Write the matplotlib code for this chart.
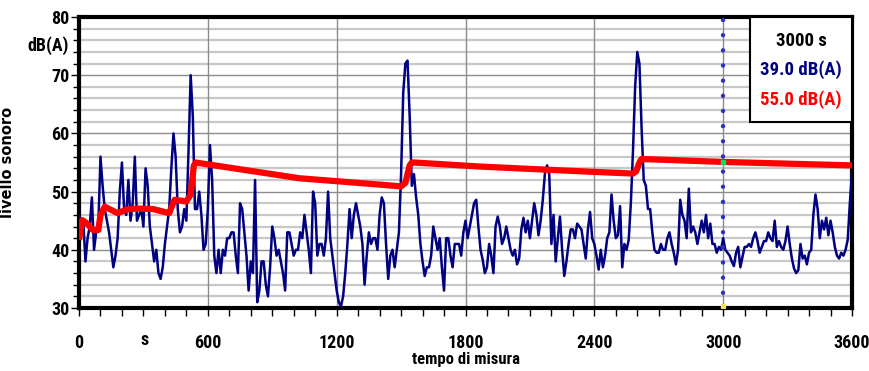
import numpy as np
import matplotlib
matplotlib.use("Agg")
import matplotlib.pyplot as plt
from matplotlib import font_manager
from matplotlib.ticker import MultipleLocator

# livello istantaneo (blu), un valore ogni 10 s da 0 a 3600 s
step = 10
blue_db = [
    46, 44, 45, 38, 42, 44, 49, 40, 43, 44, 56, 51,
    47, 45, 43, 40, 37, 39, 42, 50, 55, 47, 46, 52,
    45, 48, 56, 45, 46, 47, 44, 54, 51, 44, 41, 38,
    40, 36, 35, 37, 41, 44, 47, 54, 60, 56, 47, 43,
    44, 47, 45, 57, 70, 63, 47, 47, 50, 46, 40, 41,
    47, 58, 52, 39, 36, 40, 36, 40, 39, 42, 42, 43,
    43, 39, 36, 48, 47, 43, 39, 33, 38, 36, 52, 31,
    33, 38, 38, 34, 32, 37, 44, 42, 39, 40, 38, 36,
    33, 43, 43, 41, 39, 40, 40, 43, 42, 46, 43, 40,
    36, 50, 48, 39, 41, 41, 39, 42, 50, 42, 39, 36,
    33, 31, 30.3, 32, 36, 41, 47, 42, 46, 48, 46, 44,
    41, 34, 39, 43, 41, 42, 42, 40, 46, 49, 48, 41,
    35, 39, 40, 37, 40, 43, 53, 67, 72, 72.5, 63, 51,
    53, 49, 46, 41, 38, 35.5, 37, 37, 39, 44, 42, 40,
    42, 37, 33, 42, 42, 39, 37, 41, 41, 41, 39, 43,
    45, 42, 44, 46, 48, 48.6, 44, 40, 38.3, 36, 37, 41,
    39, 36, 44, 45.7, 44, 41, 42, 44, 42, 40, 39, 40,
    37.5, 38.5, 43.5, 45.5, 43, 45, 42, 45, 48, 46, 42.5, 45,
    48.6, 53.2, 54.5, 53, 41, 46, 38, 42, 45.7, 40, 35.5, 38,
    41, 43.5, 43.5, 42, 44.5, 44, 43.5, 41, 38.5, 43.5, 46.5, 42,
    41, 39, 36.6, 40, 37, 39, 42, 43, 49.5, 45, 42, 42.5,
    47.5, 37, 41, 40, 41.7, 48, 57, 68, 74, 72, 61, 52,
    51, 47, 47, 43, 40, 39.5, 39.5, 41, 40, 40, 42, 43,
    41, 39.5, 37.5, 40, 48.6, 46, 45, 42, 50.5, 43, 44, 43,
    41, 43, 45, 43, 46, 42, 44.5, 41, 41, 39.5, 40.5, 40,
    42, 40, 39.5, 39, 38, 37.2, 39.5, 40.5, 37, 38.8, 40.5, 40.5,
    41, 40.5, 42, 43, 41.5, 39.5, 40.5, 41.5, 41.5, 43, 42, 41.5,
    45, 40.5, 41.5, 40.5, 40, 41.5, 44, 41, 38.5, 36.8, 36, 36.5,
    41, 38.5, 39, 37.5, 39.5, 40, 46, 49.5, 47, 42, 45, 43.5,
    45.5, 42.5, 45, 43, 40.5, 39, 38.5, 39.5, 39, 40, 41.7, 48,
    53.5,
]
blue_t = np.arange(len(blue_db)) * step

# Leq progressivo (rosso)
red_t = [0, 15, 35, 65, 90, 100, 120, 180, 220, 270, 345, 420, 445, 500,
         520, 535, 545, 560, 1025, 1400, 1500, 1520, 1540, 1550, 1560, 1870,
         2330, 2580, 2595, 2610, 2620, 2700, 3000, 3600]
red_db = [41.7, 45.1, 44.6, 43.4, 43.4, 46.0, 47.4, 46.3, 46.9, 47.1, 47.0,
          46.3, 48.6, 48.3, 49.5, 54.5, 55.0, 54.9, 52.3, 51.2, 50.9, 51.5,
          54.5, 55.0, 55.0, 54.3, 53.5, 53.1, 53.5, 55.0, 55.6, 55.5, 55.1, 54.5]

cursor_t = 3000
cursor_lines = ["3000 s", "39.0 dB(A)", "55.0 dB(A)"]
x_ticks = [0, 600, 1200, 1800, 2400, 3000, 3600]

navy = "#000080"

# font stretto se disponibile
names = {f.name for f in font_manager.fontManager.ttflist}
narrow = None
for n in ["Liberation Sans Narrow", "DejaVu Sans Condensed", "Roboto Condensed",
          "Open Sans Condensed", "Noto Sans Condensed"]:
    if n in names:
        narrow = n
        break
if narrow:
    tf = dict(family=[narrow, "DejaVu Sans"], fontweight=900)
    tsize = 13
else:
    tf = dict(family=["DejaVu Sans"], fontweight="bold")
    tsize = 10.5

fig = plt.figure(figsize=(8.69, 3.71), dpi=100)
ax = fig.add_axes([79 / 869, 1 - 308 / 371, 773 / 869, 291 / 371])
ax.set_xlim(0, 3600)
ax.set_ylim(30, 80)

# griglia
for v in np.arange(32, 80, 2):
    if v % 10:
        ax.axhline(v, color="#c8c8c8", lw=1.6, zorder=0)
    else:
        ax.axhline(v, color="#8c8c8c", lw=1.0, zorder=0)
for v in x_ticks[1:-1]:
    ax.axvline(v, color="#8c8c8c", lw=1.0, zorder=0)

ax.plot(blue_t, blue_db, color=navy, lw=1.8, zorder=3)
ax.plot(red_t, red_db, color="#ff0000", lw=4.5, zorder=4, solid_capstyle="butt")

# cursore
ax.axvline(cursor_t, color="#3030c0", lw=3.2, linestyle=(0, (0.01, 3.4)),
           dash_capstyle="round", zorder=5)
ax.plot([cursor_t], [55.1], "s", color="#00e060", ms=3, zorder=6)
ax.plot([cursor_t], [30.3], "s", color="#f0e060", ms=3, zorder=6)

for s in ax.spines.values():
    s.set_linewidth(3)
    s.set_color("black")

ax.xaxis.set_major_locator(MultipleLocator(600))
ax.xaxis.set_minor_locator(MultipleLocator(100))
ax.yaxis.set_major_locator(MultipleLocator(10))
ax.yaxis.set_minor_locator(MultipleLocator(2))
ax.tick_params(axis="both", which="both", direction="out", width=1, color="black")
ax.tick_params(axis="x", which="both", length=6, pad=13)
ax.tick_params(axis="y", which="major", length=6, pad=1)
ax.tick_params(axis="y", which="minor", length=4)
ax.set_xticks(x_ticks)
ax.set_xticklabels([str(v) for v in x_ticks])
for lab in ax.get_xticklabels() + ax.get_yticklabels():
    lab.set_family(tf["family"])
    lab.set_fontweight(tf["fontweight"])
    lab.set_fontsize(tsize)

ax.set_xlabel("tempo di misura", fontsize=12, labelpad=0, **tf)
ax.set_ylabel("livello sonoro", family="DejaVu Sans", fontweight="bold", fontsize=10.5)
ax.yaxis.set_label_coords(-(79 - 15) / 773, 0.5)
fig.text(48 / 869, 1 - 46 / 371, "dB(A)", fontsize=tsize, ha="center", va="center", **tf)
fig.text(145 / 869, 1 - 340 / 371, "s", fontsize=tsize, ha="center", va="center", **tf)

# riquadro cursore
box = plt.Rectangle((671 / 773, 186 / 291), 102 / 773, 105 / 291, transform=ax.transAxes,
                    facecolor="white", edgecolor="black", lw=1.5, zorder=7)
ax.add_patch(box)
for txt, yy, c in zip(cursor_lines, [41, 70, 100], ["black", navy, "#ff0000"]):
    ax.text((801 - 79) / 773, (308 - yy) / 291, txt, transform=ax.transAxes, ha="center",
            va="center", fontsize=13.5, color=c, zorder=8, **tf)

fig.savefig("out.png", dpi=100)
